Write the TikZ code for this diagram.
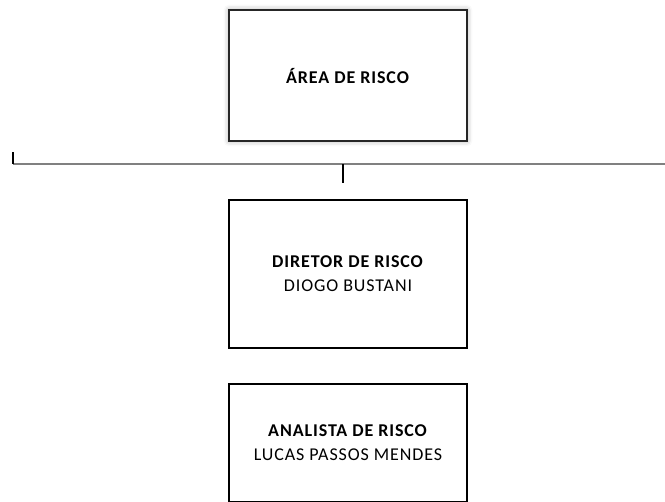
\documentclass[tikz,border=0pt]{standalone}
\usepackage{fontspec}
\setmainfont{Carlito}[LetterSpace=5]
\usetikzlibrary{shadows.blur}
\begin{document}
\begin{tikzpicture}[x=0.75pt,y=-0.75pt,
  orgbox/.style={draw=black,line width=1.1pt,fill=white,minimum width=238*0.75pt,align=center,font=\fontsize{13.5}{18}\selectfont,inner sep=0pt},
  topbox/.style={orgbox,draw=black!85,line width=1.4pt,minimum height=131*0.75pt,blur shadow={shadow xshift=0pt,shadow yshift=0pt,shadow blur radius=4pt,shadow opacity=35}},
  brk/.style={draw=black!50,line width=2.2pt},
  brkend/.style={draw=black,line width=1.1pt}]
\path[use as bounding box] (0,0) rectangle (665,501);
\clip (0,0) rectangle (665,501);
\node[topbox] (area) at (348,75.5) {\raisebox{-3pt}{\textbf{ÁREA DE RISCO}}};
\node[orgbox,minimum height=148*0.75pt] (dir) at (348,274) {\textbf{DIRETOR DE RISCO}\\DIOGO BUSTANI};
\node[orgbox,minimum height=118*0.75pt] (ana) at (348,443) {\textbf{ANALISTA DE RISCO}\\LUCAS PASSOS MENDES};
\coordinate (bl) at (13,152);
\coordinate (bc) at (13,164);
\coordinate (br) at (670,164);
\coordinate (tm) at (343,164);
\coordinate (tb) at (343,183);
\draw[brk] (bc) -- (br);
\draw[brkend] (bl) -- (bc);
\draw[brkend] (tm) -- (tb);
\end{tikzpicture}
\end{document}
